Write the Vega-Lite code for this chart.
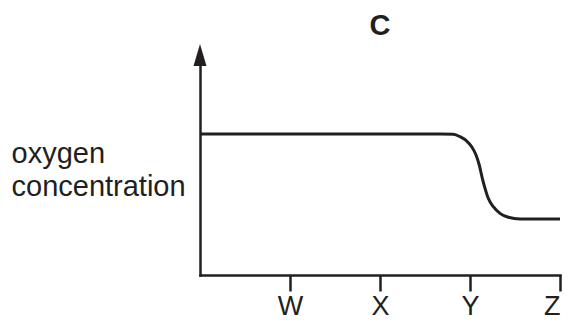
{
  "$schema": "https://vega.github.io/schema/vega-lite/v6.json",
  "width": 360,
  "height": 220,
  "autosize": "none",
  "padding": {"left": 200, "top": 55, "right": 11, "bottom": 47},
  "background": "white",
  "config": {"view": {"stroke": null}, "font": "Liberation Sans"},
  "title": {"text": "C", "fontSize": 29, "fontWeight": "bold", "color": "#231f20", "anchor": "middle", "offset": 3, "font": "Liberation Sans"},
  "layer": [
    {
      "data": {"values": [
        {"t": 0, "o": 6.409},
        {"t": 2.667, "o": 6.409},
        {"t": 2.815, "o": 6.395},
        {"t": 2.889, "o": 6.286},
        {"t": 2.963, "o": 6.091},
        {"t": 3.019, "o": 5.832},
        {"t": 3.067, "o": 5.455},
        {"t": 3.103, "o": 5.0},
        {"t": 3.137, "o": 4.395},
        {"t": 3.167, "o": 3.941},
        {"t": 3.203, "o": 3.486},
        {"t": 3.259, "o": 3.105},
        {"t": 3.333, "o": 2.803},
        {"t": 3.426, "o": 2.623},
        {"t": 3.556, "o": 2.545},
        {"t": 3.667, "o": 2.545},
        {"t": 4, "o": 2.545}
      ]},
      "mark": {"type": "line", "color": "#231f20", "strokeWidth": 3, "interpolate": "monotone"},
      "encoding": {
        "x": {"field": "t", "type": "quantitative", "scale": {"domain": [0, 4], "nice": false, "zero": false},
          "axis": {"values": [1, 2, 3, 4], "labelExpr": "['', 'W', 'X', 'Y', 'Z'][datum.value]", "grid": false, "title": null,
            "domainColor": "#231f20", "domainWidth": 2.5, "tickColor": "#231f20", "tickWidth": 2.5, "tickSize": 16,
            "labelFontSize": 27, "labelColor": "#231f20", "labelPadding": 2, "labelFont": "Liberation Sans", "domainCap": "square"}},
        "y": {"field": "o", "type": "quantitative", "scale": {"domain": [0, 10], "nice": false},
          "axis": {"grid": false, "ticks": false, "labels": false, "domainColor": "#231f20", "domainWidth": 2.5, "domainCap": "square",
            "title": ["oxygen", "concentration"], "titleAngle": 0, "titleAlign": "left", "titleBaseline": "alphabetic",
            "titleX": -189, "titleY": 107, "titleFontSize": 29, "titleFontWeight": "normal", "titleColor": "#231f20",
            "titleLineHeight": 33, "titleFont": "Liberation Sans"}}
      }
    },
    {
      "data": {"values": [{"t": 0, "o": 10}]},
      "mark": {"type": "point", "shape": "M0,-1L0.59,1L-0.59,1Z", "size": 484, "filled": true, "color": "#231f20", "opacity": 1},
      "encoding": {
        "x": {"field": "t", "type": "quantitative"},
        "y": {"field": "o", "type": "quantitative"}
      }
    }
  ]
}
